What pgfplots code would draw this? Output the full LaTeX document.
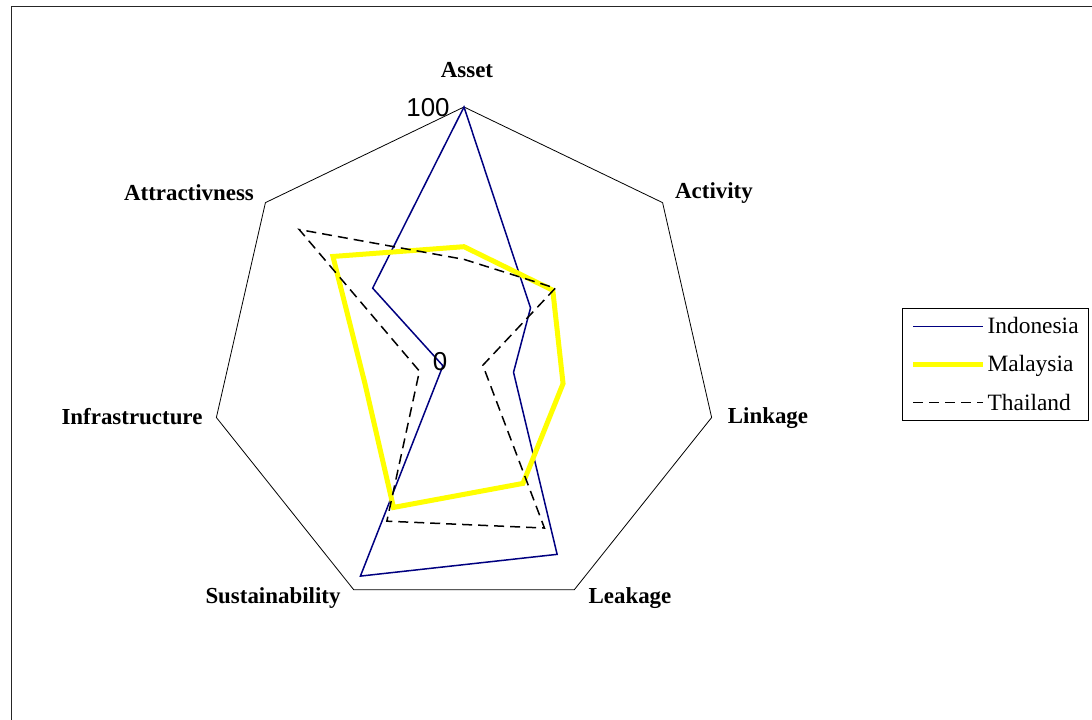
\documentclass[border=0pt]{standalone}
\usepackage{pgfplots}
\pgfplotsset{compat=1.18}
\usepackage{fontspec}
\setmainfont{Liberation Serif}
\newfontfamily\arialfont{Liberation Sans}
\definecolor{indo}{RGB}{0,0,128}
\definecolor{malay}{RGB}{255,255,0}

\begin{document}
\begin{tikzpicture}[x=1bp,y=1bp]
\useasboundingbox (0,0) rectangle (1092,720);
\draw[line width=1.5bp, black!85] (11.5,-20) -- (11.5,713.5) -- (1110,713.5);
\begin{axis}[
  at={(464bp,359bp)}, anchor=origin,
  x=2.54bp, y=2.54bp,
  xmin=-110, xmax=110, ymin=-110, ymax=110,
  hide axis, clip=false, data cs=polar,
  legend style={at={(1.6185,0.4937)}, anchor=east, draw=black, line width=0.8bp,
    font=\fontsize{23.5}{26}\selectfont, row sep=16.5bp, inner xsep=8bp, inner ysep=7bp,
    cells={anchor=west}},
  legend image code/.code={\draw[#1] (0bp,0bp) -- (70bp,0bp);},
]
% outer heptagon (100)
\addplot[black, line width=0.8bp, forget plot] coordinates {
 (90,100) (38.571,100) (-12.857,100) (-64.286,100) (-115.714,100) (-167.143,100) (141.429,100)} -- cycle;
% Indonesia
\addplot[indo, line width=1.5bp, line join=miter] coordinates {
 (90,100) (38.571,33.5) (-12.857,20) (-64.286,84.5) (-115.714,94) (-167.143,8.5) (141.429,46)} -- cycle;
\addlegendentry{Indonesia}
% Malaysia
\addplot[malay, line width=5bp, line join=miter] coordinates {
 (90,45) (38.571,44.7) (-12.857,40) (-64.286,53.5) (-115.714,64) (-167.143,40) (141.429,66)} -- cycle;
\addlegendentry{Malaysia}
% Thailand
\addplot[black, line width=1.5bp, dash pattern=on 10bp off 6bp] coordinates {
 (90,40) (38.571,46) (-12.857,7.6) (-64.286,73) (-115.714,70) (-167.143,18) (141.429,83)} -- cycle;
\addlegendentry{Thailand}
\end{axis}
\begin{scope}[every node/.style={font=\bfseries\fontsize{23}{26}\selectfont}]
\node at (467,650) {Asset};
\node at (714,527) {Activity};
\node at (768,302) {Linkage};
\node at (630,122) {Leakage};
\node at (273,122) {Sustainability};
\node at (132,303) {Infrastructure};
\node at (189,527) {Attractivness};
\end{scope}
\node[font=\arialfont\fontsize{26}{28}\selectfont] at (428,612) {100};
\node[font=\arialfont\fontsize{26}{28}\selectfont] at (440,358) {0};
\end{tikzpicture}
\end{document}
